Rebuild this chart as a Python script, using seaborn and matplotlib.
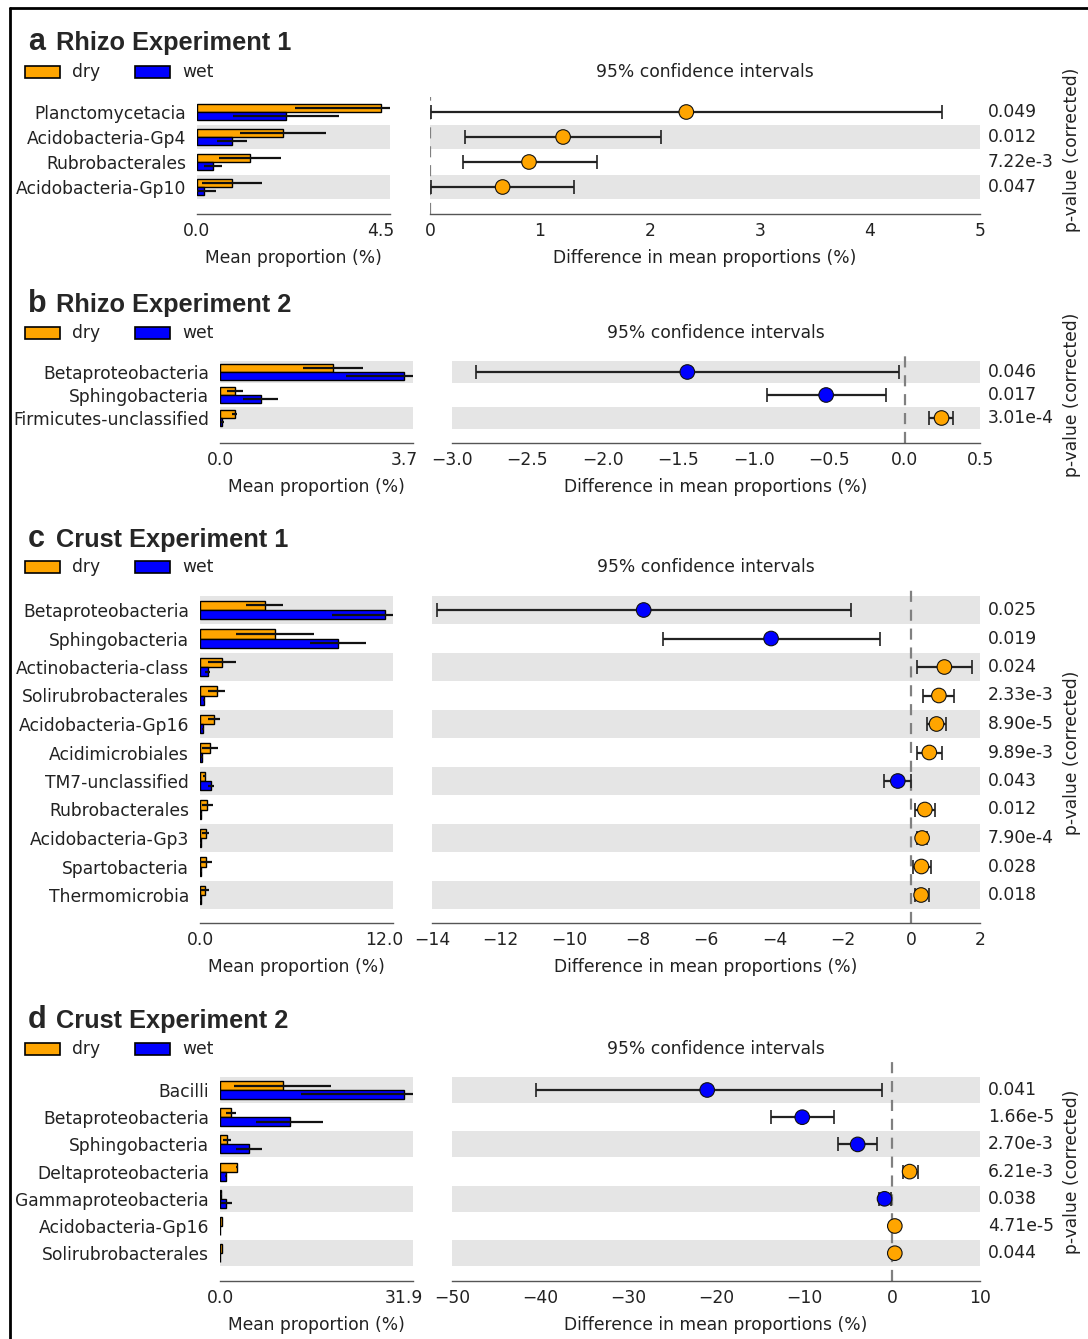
import numpy as np
import pandas as pd
import matplotlib
matplotlib.use("Agg")
import matplotlib.pyplot as plt
from matplotlib.patches import Rectangle
from matplotlib.lines import Line2D
import seaborn as sns

# ---------------- data ----------------
# a: Rhizo Experiment 1
a_cats = ["Planctomycetacia", "Acidobacteria-Gp4", "Rubrobacterales", "Acidobacteria-Gp10"]
a_dry = [4.50, 2.10, 1.30, 0.85]
a_dry_sd = [2.10, 1.05, 0.75, 0.73]
a_wet = [2.18, 0.85, 0.38, 0.18]
a_wet_sd = [1.30, 0.37, 0.22, 0.28]
a_diff = [2.33, 1.21, 0.90, 0.66]
a_lo = [0.01, 0.32, 0.30, 0.01]
a_hi = [4.65, 2.10, 1.52, 1.31]
a_p = ["0.049", "0.012", "7.22e-3", "0.047"]

# b: Rhizo Experiment 2
b_cats = ["Betaproteobacteria", "Sphingobacteria", "Firmicutes-unclassified"]
b_dry = [2.27, 0.30, 0.30]
b_dry_sd = [0.60, 0.16, 0.05]
b_wet = [3.71, 0.82, 0.05]
b_wet_sd = [1.17, 0.35, 0.03]
b_diff = [-1.44, -0.52, 0.245]
b_lo = [-2.84, -0.91, 0.16]
b_hi = [-0.04, -0.12, 0.32]
b_p = ["0.046", "0.017", "3.01e-4"]

# c: Crust Experiment 1
c_cats = ["Betaproteobacteria", "Sphingobacteria", "Actinobacteria-class",
          "Solirubrobacterales", "Acidobacteria-Gp16", "Acidimicrobiales",
          "TM7-unclassified", "Rubrobacterales", "Acidobacteria-Gp3",
          "Spartobacteria", "Thermomicrobia"]
c_dry = [4.22, 4.90, 1.45, 1.08, 0.93, 0.65, 0.30, 0.48, 0.36, 0.37, 0.33]
c_dry_sd = [1.20, 2.55, 0.93, 0.54, 0.40, 0.55, 0.10, 0.34, 0.20, 0.41, 0.27]
c_wet = [12.04, 9.00, 0.50, 0.26, 0.20, 0.13, 0.70, 0.09, 0.05, 0.08, 0.05]
c_wet_sd = [3.40, 1.80, 0.15, 0.06, 0.05, 0.05, 0.20, 0.03, 0.03, 0.03, 0.02]
c_diff = [-7.82, -4.10, 0.96, 0.80, 0.73, 0.52, -0.40, 0.39, 0.31, 0.29, 0.28]
c_lo = [-13.85, -7.26, 0.15, 0.35, 0.46, 0.15, -0.80, 0.11, 0.15, 0.04, 0.09]
c_hi = [-1.77, -0.91, 1.77, 1.24, 1.00, 0.88, -0.02, 0.68, 0.46, 0.56, 0.51]
c_p = ["0.025", "0.019", "0.024", "2.33e-3", "8.90e-5", "9.89e-3",
       "0.043", "0.012", "7.90e-4", "0.028", "0.018"]

# d: Crust Experiment 2
d_cats = ["Bacilli", "Betaproteobacteria", "Sphingobacteria", "Deltaproteobacteria",
          "Gammaproteobacteria", "Acidobacteria-Gp16", "Solirubrobacterales"]
d_dry = [10.9, 1.87, 1.15, 3.00, 0.25, 0.35, 0.35]
d_dry_sd = [8.4, 0.90, 0.70, 0.15, 0.10, 0.05, 0.05]
d_wet = [31.9, 12.07, 5.06, 1.00, 1.10, 0.03, 0.03]
d_wet_sd = [17.8, 5.80, 2.30, 0.10, 1.00, 0.01, 0.01]
d_diff = [-21.0, -10.2, -3.9, 2.0, -0.85, 0.32, 0.32]
d_lo = [-40.5, -13.8, -6.1, 1.26, -1.5, 0.25, 0.25]
d_hi = [-1.18, -6.6, -1.66, 2.96, -0.08, 0.40, 0.40]
d_p = ["0.041", "1.66e-5", "2.70e-3", "6.21e-3", "0.038", "4.71e-5", "0.044"]

# ---------------- style ----------------
sns.set_style("white")
plt.rcParams["font.family"] = ["DejaVu Sans"]

W, H = 1088, 1339
DRY, WET = "#FFA500", "#0000FF"
STRIPE = "#E5E5E5"
SPINE = "#555555"
FS = 12.3

fig = plt.figure(figsize=(W / 100, H / 100), dpi=100)


def fx(px):
    return px / W


def fy(py):
    return 1 - py / H


def add_px_axes(left, right, top, bottom):
    return fig.add_axes([fx(left), fy(bottom), (right - left) / W, (bottom - top) / H])


def style_bottom(ax):
    for s in ("left", "top", "right"):
        ax.spines[s].set_visible(False)
    ax.spines["bottom"].set_color(SPINE)
    ax.spines["bottom"].set_linewidth(1.0)
    ax.tick_params(axis="x", direction="in", length=7, width=1, color=SPINE,
                   labelsize=FS, pad=5.5, labelcolor="#222222")
    ax.tick_params(axis="y", length=0)


def stripes(ax, n):
    for i in range(n):
        if (n - 1 - i) % 2 == 0:
            ax.axhspan(i - 0.48, i + 0.48, color=STRIPE, lw=0, zorder=0)


def draw_panel(letter, title, cats, dry, dry_sd, wet, wet_sd, diff, lo, hi, pvals,
               bar_max, ci_lim, ci_ticks, lay):
    n = len(cats)
    y_bottom = (lay["spine"] - lay["y0"]) / lay["step"]
    y_top = (lay["top"] - lay["y0"]) / lay["step"]

    # ---- mean proportions (bars) ----
    axb = add_px_axes(lay["bar"][0], lay["bar"][1], lay["top"], lay["spine"])
    df = pd.DataFrame({
        "taxon": cats * 2,
        "group": ["dry"] * n + ["wet"] * n,
        "value": list(dry) + list(wet),
    })
    stripes(axb, n)
    sns.barplot(data=df, x="value", y="taxon", hue="group", orient="h",
                order=cats, hue_order=["dry", "wet"],
                palette={"dry": DRY, "wet": WET}, saturation=1, width=0.66,
                edgecolor="black", linewidth=1.0, errorbar=None,
                legend=False, ax=axb)
    rows = np.arange(n)
    axb.errorbar(dry, rows - 0.165, xerr=dry_sd, fmt="none", ecolor="#111111",
                 elinewidth=1.6, capsize=0, zorder=4)
    axb.errorbar(wet, rows + 0.165, xerr=wet_sd, fmt="none", ecolor="#111111",
                 elinewidth=1.6, capsize=0, zorder=4)
    axb.set_xlim(0, bar_max * 193 / 184)
    axb.set_ylim(y_bottom, y_top)
    axb.set_xticks([0, bar_max])
    axb.set_xticklabels(["0.0", f"{bar_max:.1f}"])
    axb.set_ylabel("")
    axb.set_xlabel("Mean proportion (%)", fontsize=FS, labelpad=6.5, color="#222222")
    style_bottom(axb)
    axb.tick_params(axis="y", labelsize=FS, pad=8, labelcolor="#222222")

    # ---- differences with 95% confidence intervals ----
    axc = add_px_axes(lay["ci"][0], lay["ci"][1], lay["top"], lay["spine"])
    stripes(axc, n)
    axc.axvline(0, color="#808080", ls=(0, (5, 3.5)), lw=1.6, zorder=1)
    diff = np.asarray(diff)
    xerr = [diff - np.asarray(lo), np.asarray(hi) - diff]
    axc.errorbar(diff, rows, xerr=xerr, fmt="none", ecolor="#222222",
                 elinewidth=1.6, capsize=5, capthick=1.2, zorder=2)
    ci_df = pd.DataFrame({"diff": diff, "row": rows,
                          "side": np.where(diff > 0, "dry", "wet")})
    sns.scatterplot(data=ci_df, x="diff", y="row", hue="side",
                    palette={"dry": DRY, "wet": WET}, s=110,
                    edgecolor="#111111", linewidth=0.8, legend=False,
                    zorder=3, ax=axc)
    axc.set_xlim(*ci_lim)
    axc.set_ylim(y_bottom, y_top)
    axc.set_xticks(ci_ticks)
    axc.set_yticks([])
    axc.set_ylabel("")
    axc.set_xlabel("Difference in mean proportions (%)", fontsize=FS, labelpad=6.5,
                   color="#222222")
    style_bottom(axc)
    for i, p in enumerate(pvals):
        axc.annotate(p, xy=(1, i), xycoords=("axes fraction", "data"),
                     xytext=(8, 0), textcoords="offset pixels",
                     va="center", ha="left", fontsize=FS, color="#222222")

    # ---- titles, legend, side label ----
    base = lay["title_y"] + 10
    fig.text(fx(28), fy(base), letter, fontsize=22, weight="bold",
             family="Liberation Sans", va="baseline", ha="left")
    fig.text(fx(56), fy(base), title, fontsize=18.3, weight="bold",
             family="Liberation Sans", va="baseline", ha="left")
    ly = lay["leg_y"]
    for x0, col, lab in ((25, DRY, "dry"), (135, WET, "wet")):
        fig.add_artist(Rectangle((fx(x0), fy(ly + 6)), 35 / W, 12 / H,
                                 transform=fig.transFigure, facecolor=col,
                                 edgecolor="black", lw=1.2))
        fig.text(fx(x0 + 47), fy(ly), lab, fontsize=FS, va="center", ha="left",
                 color="#222222")
    fig.text(fx((lay["ci"][0] + lay["ci"][1]) / 2), fy(ly),
             "95% confidence intervals", fontsize=FS, va="center", ha="center",
             color="#222222")
    mid = lay["y0"] + (n - 1) * lay["step"] / 2
    fig.text(fx(1072), fy(mid), "p-value (corrected)", rotation=90, fontsize=FS,
             va="center", ha="center", color="#222222")


lay_a = dict(y0=112, step=25, top=97, spine=214, bar=(197, 390), ci=(430, 980),
             title_y=40, leg_y=72)
lay_b = dict(y0=372, step=23, top=352, spine=443, bar=(220, 413), ci=(452, 980),
             title_y=302, leg_y=333)
lay_c = dict(y0=610, step=28.5, top=583, spine=923, bar=(200, 393), ci=(432, 980),
             title_y=537, leg_y=567)
lay_d = dict(y0=1090, step=27.2, top=1062, spine=1281, bar=(220, 413), ci=(452, 980),
             title_y=1018, leg_y=1049)

draw_panel("a", "Rhizo Experiment 1", a_cats, a_dry, a_dry_sd, a_wet, a_wet_sd,
           a_diff, a_lo, a_hi, a_p, 4.5, (0, 5), np.arange(0, 6), lay_a)
draw_panel("b", "Rhizo Experiment 2", b_cats, b_dry, b_dry_sd, b_wet, b_wet_sd,
           b_diff, b_lo, b_hi, b_p, 3.7, (-3.0, 0.5), np.arange(-3.0, 0.51, 0.5), lay_b)
draw_panel("c", "Crust Experiment 1", c_cats, c_dry, c_dry_sd, c_wet, c_wet_sd,
           c_diff, c_lo, c_hi, c_p, 12.0, (-14, 2), np.arange(-14, 3, 2), lay_c)
draw_panel("d", "Crust Experiment 2", d_cats, d_dry, d_dry_sd, d_wet, d_wet_sd,
           d_diff, d_lo, d_hi, d_p, 31.9, (-50, 10), np.arange(-50, 11, 10), lay_d)

# outer frame (left and top edges)
fig.add_artist(Line2D([fx(10), fx(10)], [0, fy(8)], transform=fig.transFigure,
                      color="black", lw=2))
fig.add_artist(Line2D([fx(10), 1], [fy(8), fy(8)], transform=fig.transFigure,
                      color="black", lw=2))

fig.savefig("out.png", dpi=100)
